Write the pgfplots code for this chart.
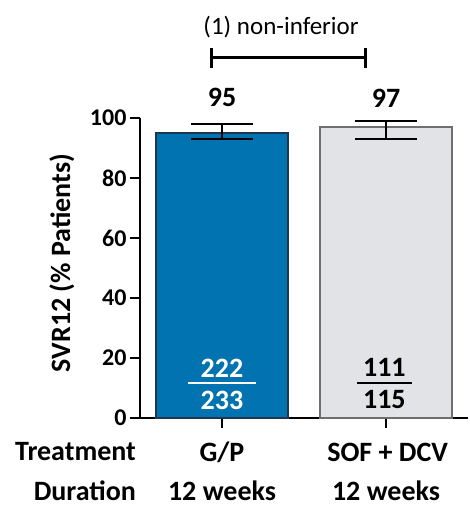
\documentclass[border=0pt]{standalone}
\usepackage{pgfplots}
\pgfplotsset{compat=1.18}
\usepackage{fontspec}
\setmainfont{Carlito}
\definecolor{barblue}{RGB}{0,115,176}
\definecolor{bargray}{RGB}{226,227,231}
\definecolor{edgegray}{RGB}{110,110,110}
\definecolor{edgeblue}{RGB}{30,55,80}
\begin{document}
\begin{tikzpicture}
\useasboundingbox (0,0) rectangle (470pt,506pt);
\begin{axis}[
  at={(140pt,88pt)}, anchor=south west,
  scale only axis, width=328pt, height=300pt,
  xmin=-0.5, xmax=1.5, ymin=0, ymax=100,
  axis x line*=bottom, axis y line*=left,
  axis line style={line width=2.5pt, black},
  xtick={0,1}, xticklabels={},
  ytick={0,20,40,60,80,100},
  tick align=outside, major tick length=10pt,
  tick style={line width=2.2pt, black},
  yticklabel style={font=\fontsize{24}{28}\selectfont\bfseries},
  /pgf/number format/assume math mode=true,
  ylabel={SVR12 (\% Patients)},
  ylabel style={at={(axis description cs:-0.238,0.517)}, anchor=center, font=\fontsize{28}{32}\selectfont\bfseries},
  clip=false,
  ybar, bar width=132pt, bar shift=0pt,
]
\addplot[fill=barblue, draw=edgeblue, line width=1.2pt,
  error bars/.cd, y dir=both, y explicit,
  error bar style={line width=2.8pt, black},
  error mark options={rotate=90, mark size=31pt, line width=2.8pt, black}]
  coordinates {(0,95) += (0,3) -= (0,2)};
\addplot[fill=bargray, draw=edgegray, line width=1.2pt,
  error bars/.cd, y dir=both, y explicit,
  error bar style={line width=2.8pt, black},
  error mark options={rotate=90, mark size=31pt, line width=2.8pt, black}]
  coordinates {(1,97) += (0,2) -= (0,4)};
% values above bars
\node[font=\fontsize{28}{32}\selectfont\bfseries] at (axis cs:0,106.7) {95};
\node[font=\fontsize{28}{32}\selectfont\bfseries] at (axis cs:1,106.7) {97};
% fractions
\node[font=\fontsize{28}{32}\selectfont\bfseries, text=white] at (axis cs:0,16.7) {222};
\draw[white, line width=2pt] (axis cs:-0.207,11.7) -- (axis cs:0.207,11.7);
\node[font=\fontsize{28}{32}\selectfont\bfseries, text=white] at (axis cs:0,6) {233};
\node[font=\fontsize{28}{32}\selectfont\bfseries] at (axis cs:0.99,16.7) {111};
\draw[black, line width=2pt] (axis cs:0.822,11.7) -- (axis cs:1.158,11.7);
\node[font=\fontsize{28}{32}\selectfont\bfseries] at (axis cs:0.99,6) {115};
% bracket
\draw[line width=3pt] (axis cs:-0.067,120) -- (axis cs:0.878,120);
\draw[line width=3pt] (axis cs:-0.067,116.7) -- (axis cs:-0.067,123.3);
\draw[line width=3pt] (axis cs:0.878,116.7) -- (axis cs:0.878,123.3);
\node[font=\fontsize{25}{30}\selectfont] at (axis cs:0.36,130.3) {(1) non-inferior};
% category rows
\node[font=\fontsize{28}{32}\selectfont\bfseries, anchor=east, inner sep=0pt] at (axis cs:-0.524,-11.33) {Treatment};
\node[font=\fontsize{28}{32}\selectfont\bfseries, anchor=east, inner sep=0pt] at (axis cs:-0.524,-24.2) {Duration};
\node[font=\fontsize{28}{32}\selectfont\bfseries, inner sep=0pt] at (axis cs:0,-11.33) {G/P};
\node[font=\fontsize{28}{32}\selectfont\bfseries, inner sep=0pt] at (axis cs:1.01,-11.33) {SOF + DCV};
\node[font=\fontsize{28}{32}\selectfont\bfseries, inner sep=0pt] at (axis cs:0,-24.2) {12 weeks};
\node[font=\fontsize{28}{32}\selectfont\bfseries, inner sep=0pt] at (axis cs:1,-24.2) {12 weeks};
\end{axis}
\end{tikzpicture}
\end{document}
